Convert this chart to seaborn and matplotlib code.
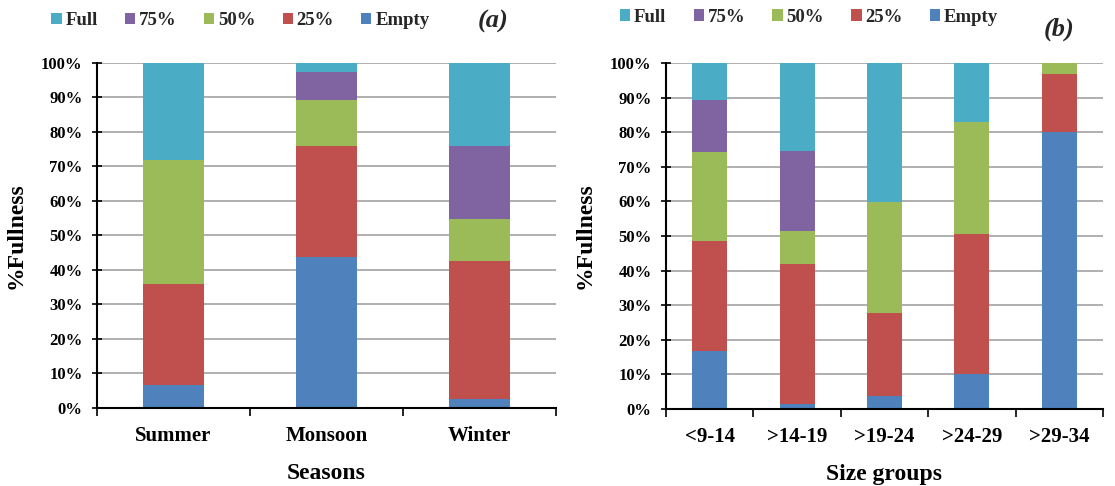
import numpy as np
import pandas as pd
import matplotlib
matplotlib.use("Agg")
import matplotlib.pyplot as plt
from matplotlib.patches import Patch
from matplotlib.ticker import FixedLocator, PercentFormatter
import seaborn as sns

# Fullness categories (stack order, bottom to top)
levels = ["Empty", "25%", "50%", "75%", "Full"]
level_colors = {"Empty": "#4F81BD", "25%": "#C0504D", "50%": "#9BBB59",
                "75%": "#8064A2", "Full": "#4BACC6"}

# (a) stomach fullness by season, percent of fish
seasons = ["Summer", "Monsoon", "Winter"]
season_empty = [6.6, 43.9, 2.7]
season_25 = [29.4, 32.1, 39.9]
season_50 = [35.9, 13.4, 12.1]
season_75 = [0.0, 7.9, 21.3]
season_full = [28.1, 2.7, 24.0]

# (b) stomach fullness by size group, percent of fish
size_groups = ["<9-14", ">14-19", ">19-24", ">24-29", ">29-34"]
size_empty = [16.7, 1.4, 3.7, 10.0, 80.0]
size_25 = [31.9, 40.6, 24.1, 40.6, 16.7]
size_50 = [25.8, 9.5, 32.0, 32.3, 3.3]
size_75 = [15.0, 23.2, 0.0, 0.0, 0.0]
size_full = [10.6, 25.3, 40.2, 17.1, 0.0]

sns.set_theme(style="white")
serif = ["Liberation Serif", "DejaVu Serif"]
plt.rcParams["font.family"] = serif
plt.rcParams["font.weight"] = "bold"

fig = plt.figure(figsize=(11.15, 4.86), dpi=100)
ax_a = fig.add_axes([0.0870, 0.1605, 0.4117, 0.7099])
ax_b = fig.add_axes([0.5973, 0.1584, 0.3919, 0.7119])


def stacked(ax, cats, layers, xlabel):
    df = pd.DataFrame(layers, index=levels).T
    df.index = cats
    cum = df.cumsum(axis=1)
    # draw cumulative totals from the top layer down so each lower layer overlays
    for lev in reversed(levels):
        sns.barplot(x=list(cats), y=cum[lev].values, color=level_colors[lev],
                    width=0.4, saturation=1, ax=ax, zorder=3, linewidth=0)
    n = len(cats)
    ax.set_xlim(-0.5, n - 0.5)
    ax.set_ylim(0, 100)
    ax.yaxis.set_major_locator(FixedLocator(np.arange(0, 101, 10)))
    ax.yaxis.set_major_formatter(PercentFormatter(decimals=0))
    ax.grid(axis="y", color="#9a9a9a", linewidth=1.1, zorder=0)
    ax.grid(axis="x", visible=False)
    ax.set_axisbelow(True)
    for s in ["top", "right"]:
        ax.spines[s].set_visible(False)
    for s in ["left", "bottom"]:
        ax.spines[s].set_color("black")
        ax.spines[s].set_linewidth(1.5)
        ax.spines[s].set_zorder(4)
    ax.tick_params(axis="y", direction="inout", length=7, width=1.2,
                   color="black", left=True, pad=7, labelsize=12)
    ax.tick_params(axis="x", which="major", length=0, pad=13, labelsize=15)
    ax.xaxis.set_minor_locator(FixedLocator(np.arange(-0.5, n, 1.0)))
    ax.tick_params(axis="x", which="minor", direction="out", length=6,
                   width=1.2, color="black", bottom=True)
    for lab in ax.get_xticklabels() + ax.get_yticklabels():
        lab.set_fontweight("bold")
        lab.set_color("black")
    ax.set_xlabel(xlabel, fontsize=17, fontweight="bold", labelpad=12, color="black")
    ax.set_ylabel("%Fullness", fontsize=17, fontweight="bold", labelpad=10, color="black")


stacked(ax_a, seasons,
        [season_empty, season_25, season_50, season_75, season_full], "Seasons")
stacked(ax_b, size_groups,
        [size_empty, size_25, size_50, size_75, size_full], "Size groups")

handles = [Patch(facecolor=level_colors[l], edgecolor="none", label=l)
           for l in reversed(levels)]
legend_kw = dict(ncol=5, frameon=False, handlelength=0.55, handleheight=0.55,
                 handletextpad=0.2, columnspacing=1.45,
                 prop={"family": serif, "weight": "bold", "size": 13.5},
                 borderaxespad=0, borderpad=0)
fig.legend(handles=handles, loc="center left", bbox_to_anchor=(0.046, 0.957), **legend_kw)
fig.legend(handles=handles, loc="center left", bbox_to_anchor=(0.556, 0.965), **legend_kw)

fig.text(0.442, 0.955, "(a)", fontsize=19, fontweight="bold", fontstyle="italic",
         va="center", ha="center")
fig.text(0.950, 0.940, "(b)", fontsize=19, fontweight="bold", fontstyle="italic",
         va="center", ha="center")

fig.savefig("out.png", dpi=100)
